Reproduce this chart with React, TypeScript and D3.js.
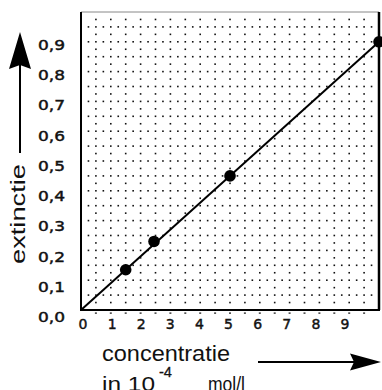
import React from "react";
import * as d3 from "d3";

// ---- data ----
const xTickValues = [0, 1, 2, 3, 4, 5, 6, 7, 8, 9];
const xTickLabels = ["0", "1", "2", "3", "4", "5", "6", "7", "8", "9"];
const yTickValues = [0, 0.1, 0.2, 0.3, 0.4, 0.5, 0.6, 0.7, 0.8, 0.9];
const yTickLabels = ["0,0", "0,1", "0,2", "0,3", "0,4", "0,5", "0,6", "0,7", "0,8", "0,9"];
const concentration = [1.5, 2.45, 5.0, 10];
const extinction = [0.135, 0.23, 0.45, 0.9];
const fitX = [0, 10];
const fitY = [0, 0.9];
const yLabel = "extinctie";
const xLabel1 = "concentratie";
const xLabel2a = "in 10";
const xLabel2sup = "-4";
const xLabel2b = "mol/l";

const W = 382;
const H = 390;

export default function App() {
  const x = d3.scaleLinear().domain([0, 10]).range([81, 379]);
  const y = d3.scaleLinear().domain([0, 1]).range([310, 12]);
  // tick label placement scales (labels in the scan are slightly offset from the grid)
  const xLab = d3.scaleLinear().domain([0, 9]).range([83, 345]);
  const yLab = d3.scaleLinear().domain([0, 0.9]).range([317, 45]);

  // dotted background grid
  const dots: { cx: number; cy: number }[] = [];
  for (let j = 1; j < 20; j++) {
    const yv = j * 0.05;
    for (let i = 1; i < 40; i++) dots.push({ cx: x(i * 0.25), cy: y(yv) });
  }
  for (let i = 1; i < 20; i++) {
    const xv = i * 0.5;
    for (let j = 1; j < 40; j++) {
      if (j % 2 === 0) continue;
      dots.push({ cx: x(xv), cy: y(j * 0.025) });
    }
  }
  const underMarks = d3.range(1, 20).map((i) => x(i * 0.5));

  const line = d3
    .line<number>()
    .x((d) => x(fitX[d]))
    .y((d) => y(fitY[d]));

  const font = "'DejaVu Sans', sans-serif";
  const font2 = "'Liberation Sans', Arial, sans-serif";

  return (
    <svg
      width={W}
      height={H}
      style={{ position: "absolute", left: 0, top: 0, background: "#fff" }}
    >
      <rect x={0} y={0} width={W} height={H} fill="#fff" />
      {/* dot grid */}
      <g fill="#111">
        {dots.map((d, i) => (
          <rect key={i} x={d.cx - 0.8} y={d.cy - 0.8} width={1.6} height={1.6} />
        ))}
        {underMarks.map((m, i) => (
          <rect key={"u" + i} x={m - 1} y={312.5} width={2} height={1.2} />
        ))}
      </g>
      {/* frame */}
      <line x1={x(0)} x2={x(10)} y1={y(1)} y2={y(1)} stroke="#888" strokeWidth={1} />
      <line x1={x(0)} x2={x(0)} y1={y(1)} y2={y(0)} stroke="#000" strokeWidth={2} />
      <line x1={x(10)} x2={x(10)} y1={y(1)} y2={y(0)} stroke="#000" strokeWidth={2.5} />
      <line x1={x(0) - 1} x2={x(10) + 1} y1={y(0)} y2={y(0)} stroke="#000" strokeWidth={2} />

      {/* fit line */}
      <path d={line([0, 1]) || ""} stroke="#000" strokeWidth={2} fill="none" />
      {/* points */}
      {concentration.map((c, i) => (
        <circle key={i} cx={x(c)} cy={y(extinction[i])} r={5.8} fill="#000" />
      ))}

      {/* y tick labels */}
      {yTickValues.map((v, i) => (
        <text
          key={i}
          x={65}
          y={yLab(v) + 5}
          textAnchor="end"
          fontFamily={font}
          fontSize={14}
          fill="#111"
          stroke="#111"
          strokeWidth={0.45}
          textLength={27}
          lengthAdjust="spacingAndGlyphs"
        >
          {yTickLabels[i]}
        </text>
      ))}
      {/* x tick labels */}
      {xTickValues.map((v, i) => (
        <text
          key={i}
          x={xLab(v)}
          y={328.5}
          textAnchor="middle"
          fontFamily={font}
          fontSize={14}
          fill="#111"
          stroke="#111"
          strokeWidth={0.45}
        >
          {xTickLabels[i]}
        </text>
      ))}

      {/* y axis title + arrow */}
      <text
        transform="translate(25,214) rotate(-90)"
        textAnchor="middle"
        fontFamily={font2}
        fontSize={20}
        fill="#111"
        textLength={100}
        lengthAdjust="spacingAndGlyphs"
      >
        {yLabel}
      </text>
      <line x1={20} x2={20} y1={153} y2={62} stroke="#000" strokeWidth={2} />
      <path d="M20,32 L31,69 L20,65 L9,69 Z" fill="#000" />

      {/* x axis title + arrow */}
      <text
        x={102}
        y={361}
        fontFamily={font2}
        fontSize={22}
        fill="#111"
        textLength={128}
        lengthAdjust="spacingAndGlyphs"
      >
        {xLabel1}
      </text>
      <line x1={258} x2={356} y1={362} y2={362} stroke="#000" strokeWidth={2} />
      <path d="M381,362 L350,353.5 L354,362 L350,370.5 Z" fill="#000" />

      <text
        x={102}
        y={391}
        fontFamily={font2}
        fontSize={20}
        fill="#111"
        textLength={53}
        lengthAdjust="spacingAndGlyphs"
      >
        {xLabel2a}
      </text>
      <text
        x={159}
        y={377}
        fontFamily={font2}
        fontSize={15}
        fill="#111"
        stroke="#111"
        strokeWidth={0.3}
        textLength={13}
        lengthAdjust="spacingAndGlyphs"
      >
        {xLabel2sup}
      </text>
      <text
        x={208}
        y={391}
        fontFamily={font2}
        fontSize={20}
        fill="#111"
        textLength={37}
        lengthAdjust="spacingAndGlyphs"
      >
        {xLabel2b}
      </text>
    </svg>
  );
}
